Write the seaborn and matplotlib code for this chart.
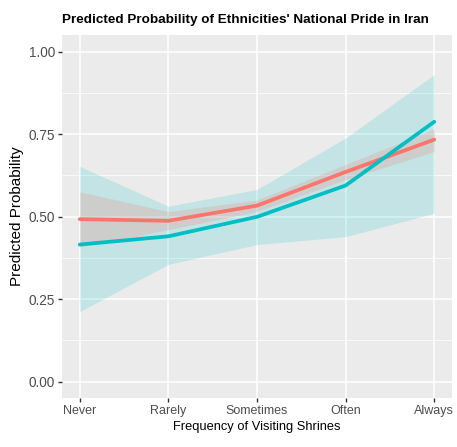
import numpy as np
import pandas as pd
import seaborn as sns
import matplotlib.pyplot as plt
from matplotlib.ticker import MultipleLocator

levels = ['Never', 'Rarely', 'Sometimes', 'Often', 'Always']
groups = ['A', 'B']

# predicted probabilities and confidence bounds
fit_a = [0.492, 0.487, 0.533, 0.635, 0.733]
lo_a = [0.408, 0.460, 0.515, 0.612, 0.697]
hi_a = [0.575, 0.515, 0.550, 0.658, 0.765]

fit_b = [0.415, 0.440, 0.499, 0.594, 0.787]
lo_b = [0.212, 0.355, 0.415, 0.439, 0.510]
hi_b = [0.652, 0.531, 0.582, 0.738, 0.930]

colors = {'A': '#F8766D', 'B': '#00BFC4'}

df = pd.DataFrame({
    'x': list(range(len(levels))) * 2,
    'prob': fit_a + fit_b,
    'group': ['A'] * len(levels) + ['B'] * len(levels),
})

sns.set_theme(style='darkgrid', rc={
    'axes.facecolor': '#EBEBEB',
    'grid.color': 'white',
    'axes.edgecolor': 'none',
})
plt.rcParams['font.family'] = ['Liberation Sans', 'DejaVu Sans']

fig = plt.figure(figsize=(4.57, 4.47), dpi=100)
ax = fig.add_axes([0.1357, 0.1096, 0.8533, 0.8121])

x = np.arange(len(levels))
ax.fill_between(x, lo_b, hi_b, color=colors['B'], alpha=0.17, lw=0, zorder=2)
ax.fill_between(x, lo_a, hi_a, color=colors['A'], alpha=0.2, lw=0, zorder=2)

sns.lineplot(data=df, x='x', y='prob', hue='group', palette=colors,
             hue_order=groups, linewidth=2.7, legend=False, ax=ax, zorder=3)

ax.set_xlim(-0.2, 4.2)
ax.set_ylim(-0.05, 1.05)
ax.set_xticks(x)
ax.set_xticklabels(levels)
ax.set_yticks([0, 0.25, 0.5, 0.75, 1.0])
ax.set_yticklabels(['0.00', '0.25', '0.50', '0.75', '1.00'])
ax.yaxis.set_minor_locator(MultipleLocator(0.125))
ax.grid(which='major', color='white', lw=1.1)
ax.grid(which='minor', axis='y', color='white', lw=0.55)
ax.tick_params(axis='both', which='major', length=3, width=1, color='#333333',
               labelcolor='#4D4D4D', pad=2, bottom=True, left=True)
ax.tick_params(axis='x', which='major', labelsize=9)
ax.tick_params(axis='y', which='major', labelsize=9.8)
ax.tick_params(axis='both', which='minor', length=0)

ax.set_xlabel('Frequency of Visiting Shrines', fontsize=9.3, color='black', labelpad=3)
ax.set_ylabel('Predicted Probability', fontsize=11, color='black', labelpad=3)
ax.set_title("Predicted Probability of Ethnicities' National Pride in Iran",
             fontsize=9.7, fontweight='bold', color='black', pad=9, loc='left')

fig.savefig('out.png', dpi=100)
